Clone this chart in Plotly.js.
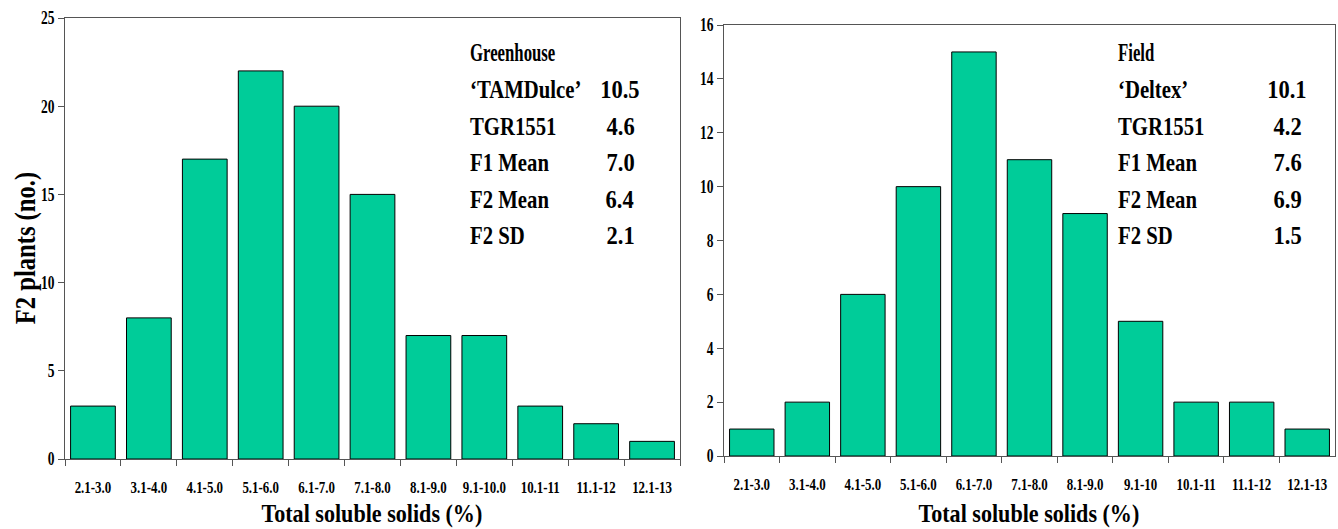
<!DOCTYPE html>
<html>
<head>
<meta charset="utf-8">
<script src="https://cdn.plot.ly/plotly-3.0.1.min.js"></script>
<style>
html,body{margin:0;padding:0;background:#fff;}
#chart{width:1338px;height:529px;}
</style>
</head>
<body>
<div id="chart"></div>
<script>
const categoriesGreenhouse = ["2.1-3.0","3.1-4.0","4.1-5.0","5.1-6.0","6.1-7.0","7.1-8.0","8.1-9.0","9.1-10.0","10.1-11","11.1-12","12.1-13"];
const categoriesField = ["2.1-3.0","3.1-4.0","4.1-5.0","5.1-6.0","6.1-7.0","7.1-8.0","8.1-9.0","9.1-10","10.1-11","11.1-12","12.1-13"];
const countsGreenhouse = [3,8,17,22,20,15,7,7,3,2,1];
const countsField = [1,2,6,10,15,11,9,5,2,2,1];
const statTitleGreenhouse = "Greenhouse";
const statLabelsGreenhouse = ["‘TAMDulce’","TGR1551","F1 Mean","F2 Mean","F2 SD"];
const statValuesGreenhouse = ["10.5","4.6","7.0","6.4","2.1"];
const statTitleField = "Field";
const statLabelsField = ["‘Deltex’","TGR1551","F1 Mean","F2 Mean","F2 SD"];
const statValuesField = ["10.1","4.2","7.6","6.9","1.5"];
const xTitle = "Total soluble solids (%)";
const yTitle = "F2 plants (no.)";

const W = 1338, H = 529;
const mL = 65, mR = 3, mT = 18, mB = 70;
const pw = W - mL - mR, ph = H - mT - mB;
const px = v => (v - mL) / pw;
const py = v => (H - mB - v) / ph;

const FONT = "Liberation Serif, Times New Roman, serif";
const barColor = "#00CC99";
const axisColor = "#555";

const traces = [
  {type:"bar", x:categoriesGreenhouse, y:countsGreenhouse, xaxis:"x", yaxis:"y",
   marker:{color:barColor, line:{color:"#000", width:1}}, width:0.8},
  {type:"bar", x:categoriesField, y:countsField, xaxis:"x2", yaxis:"y2",
   marker:{color:barColor, line:{color:"#000", width:1}}, width:0.8}
];

// squeeze factor and anchor per annotation (visual condensing of the Times-like font)
const annSqueeze = [];
const annotations = [];
function ann(x, y, text, size, anchor, squeeze, angle){
  annotations.push({xref:"paper", yref:"paper", x:x, y:y, text:text, showarrow:false,
    xanchor:anchor, yanchor:"middle", textangle:angle||0,
    font:{family:FONT, size:size, color:"#000", weight:"bold"}});
  annSqueeze.push({f:squeeze, anchor:anchor});
}
const rowY = [90,126,162,199,236];
function addStats(title, labels, values, labelX, valueX){
  ann(px(labelX), py(52), title, 25, "left", 0.67);
  labels.forEach((l,i)=>{
    ann(px(labelX), py(rowY[i]), l, 25, "left", 0.83);
    ann(px(valueX), py(rowY[i]), values[i], 25, "center", 0.9);
  });
}
addStats(statTitleGreenhouse, statLabelsGreenhouse, statValuesGreenhouse, 468, 620);
addStats(statTitleField, statLabelsField, statValuesField, 1116, 1287);
ann(px(372), py(513), xTitle, 26, "center", 0.85);
ann(px(1029), py(513), xTitle, 26, "center", 0.85);
ann(px(25), py(248), yTitle, 30, "center", 0.82, -90);

const axCommon = {
  showgrid:false, zeroline:false, showline:true, linecolor:axisColor, linewidth:1, mirror:true,
  ticks:"outside", tickcolor:axisColor, ticklen:6, tickangle:0,
  tickfont:{family:FONT, size:17, color:"#000", weight:"bold"}
};

const layout = {
  width:W, height:H, margin:{l:mL, r:mR, t:mT, b:mB},
  paper_bgcolor:"#fff", plot_bgcolor:"#fff", showlegend:false, bargap:0.2,
  font:{family:FONT},
  xaxis:Object.assign({}, axCommon, {domain:[0, px(680)], anchor:"y", range:[-0.5,10.5],
    tickson:"boundaries", ticklabelstandoff:13}),
  yaxis:Object.assign({}, axCommon, {domain:[0,1], anchor:"x", range:[0,25], dtick:5, ticklen:6,
    tickfont:{family:FONT, size:18, color:"#000", weight:"bold"}}),
  xaxis2:Object.assign({}, axCommon, {domain:[px(724), 1], anchor:"y2", range:[-0.5,10.5],
    tickson:"boundaries", ticklabelstandoff:13}),
  yaxis2:Object.assign({}, axCommon, {domain:[py(456), py(25)], anchor:"x2", range:[0,16], dtick:2, ticklen:6,
    tickfont:{family:FONT, size:18, color:"#000", weight:"bold"}}),
  annotations:annotations
};

function squeeze(el, f, shift){
  const len = el.getComputedTextLength();
  if (!len) return;
  el.setAttribute("textLength", (len*f).toFixed(2));
  el.setAttribute("lengthAdjust", "spacingAndGlyphs");
  if (shift) {
    const x = parseFloat(el.getAttribute("x")) || 0;
    el.setAttribute("x", (x - shift*len*(1-f)/2).toFixed(2));
  }
}

Plotly.newPlot("chart", traces, layout, {displayModeBar:false, staticPlot:true}).then(gd=>{
  gd.querySelectorAll(".xtick text, .x2tick text").forEach(el=>squeeze(el, 0.76, 0));
  gd.querySelectorAll(".ytick text, .y2tick text").forEach(el=>squeeze(el, 0.75, 0));
  gd.querySelectorAll("g.annotation").forEach(g=>{
    const i = parseInt(g.getAttribute("data-index"));
    const s = annSqueeze[i];
    const el = g.querySelector("text.annotation-text");
    if (!el || !s) return;
    squeeze(el, s.f, s.anchor === "left" ? 1 : 0);
  });
});
</script>
</body>
</html>
